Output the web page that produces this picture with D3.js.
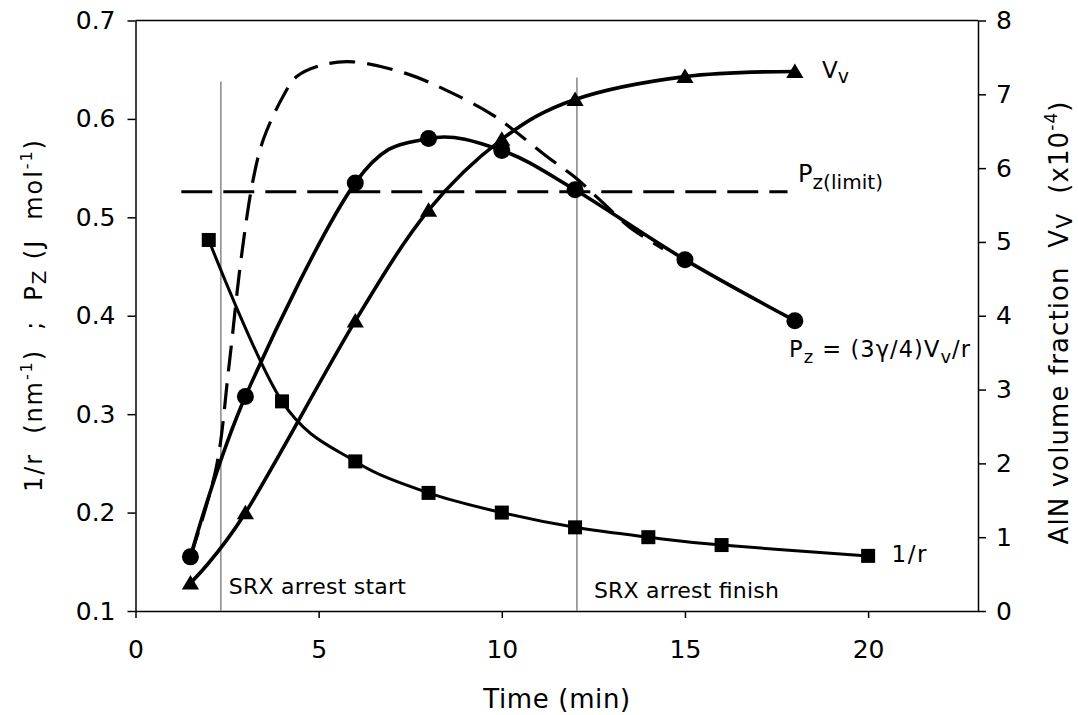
<!DOCTYPE html>
<html>
<head>
<meta charset="utf-8">
<script src="https://cdn.jsdelivr.net/npm/d3@7"></script>
<style>
  html, body { margin: 0; padding: 0; background: #fff; }
  svg { display: block; font-family: Verdana, "DejaVu Sans", sans-serif; }
  text { white-space: pre; }
</style>
</head>
<body>
<svg id="chart" width="1078" height="715"></svg>
<script>
// ---------- data ----------
const timeRinv = [2, 4, 6, 8, 10, 12, 14, 16, 20];
const rinv     = [0.477, 0.313, 0.252, 0.220, 0.200, 0.185, 0.175, 0.167, 0.156];

const timePz = [1.5, 3, 6, 8, 10, 12, 15, 18];
const pz     = [0.155, 0.318, 0.535, 0.580, 0.568, 0.528, 0.457, 0.395];

const timeVv = [1.5, 3, 6, 8, 10, 12, 15, 18];
const vv     = [0.38, 1.33, 3.93, 5.43, 6.39, 6.93, 7.24, 7.31];

const pzLimitTime = [1.25, 17.8];
const pzLimit     = [0.526, 0.526];

const pzCurveTime = [1.5, 2.2, 2.55, 2.87, 3.21, 3.49, 4.03, 4.40, 5.12, 5.94, 7.40, 8.49, 9.67, 10.31, 11.22, 11.99, 12.67, 13.49, 14.4];
const pzCurveVal  = [0.155, 0.245, 0.348, 0.454, 0.538, 0.579, 0.623, 0.643, 0.655, 0.658, 0.646, 0.629, 0.606, 0.589, 0.562, 0.541, 0.518, 0.490, 0.468];

const srxTime   = [2.33, 12.05];
const srxTop    = [0.638, 0.642];
const srxLabels = ["SRX arrest start", "SRX arrest finish"];

const xTicks      = [0, 5, 10, 15, 20];
const yLeftTicks  = [0.1, 0.2, 0.3, 0.4, 0.5, 0.6, 0.7];
const yRightTicks = [0, 1, 2, 3, 4, 5, 6, 7, 8];

// ---------- chart ----------
const svg = d3.select("#chart");
const L = 135.5, R = 978, T = 20.5, B = 611;

const x  = d3.scaleLinear().domain([0, 23]).range([L, R]);
const yL = d3.scaleLinear().domain([0.1, 0.7]).range([B, T]);
const yR = d3.scaleLinear().domain([0, 8]).range([B, T]);

// frame top
svg.append("line").attr("x1", L).attr("x2", R).attr("y1", T).attr("y2", T)
  .attr("stroke", "#000").attr("stroke-width", 1.5);

// axes
const axX = svg.append("g").attr("transform", `translate(0,${B})`)
  .call(d3.axisBottom(x).tickValues(xTicks).tickFormat(d3.format("d")).tickSize(7).tickSizeOuter(0).tickPadding(22));
const axL = svg.append("g").attr("transform", `translate(${L},0)`)
  .call(d3.axisLeft(yL).tickValues(yLeftTicks).tickFormat(d3.format(".1f")).tickSize(8).tickSizeOuter(0).tickPadding(12));
const axR = svg.append("g").attr("transform", `translate(${R},0)`)
  .call(d3.axisRight(yR).tickValues(yRightTicks).tickFormat(d3.format("d")).tickSize(8).tickSizeOuter(0).tickPadding(10));

[axX, axL, axR].forEach(g => {
  g.select(".domain").attr("stroke", "#000").attr("stroke-width", 1.5);
  g.selectAll(".tick line").attr("stroke", "#000").attr("stroke-width", 1.5);
  g.selectAll(".tick text").attr("font-size", 25).attr("fill", "#000")
    .attr("font-family", 'Verdana, "DejaVu Sans", sans-serif');
});

// SRX vertical lines
svg.append("g").selectAll("line").data(srxTime).join("line")
  .attr("x1", d => x(d)).attr("x2", d => x(d))
  .attr("y1", (d, i) => yL(srxTop[i])).attr("y2", B)
  .attr("stroke", "#8f8f8f").attr("stroke-width", 1.6);

const smooth = d3.curveCatmullRom.alpha(0);

// Pz limit dashed line
svg.append("path")
  .attr("d", d3.line().x((d, i) => x(pzLimitTime[i])).y(d => yL(d))(pzLimit))
  .attr("fill", "none").attr("stroke", "#000").attr("stroke-width", 3.2)
  .attr("stroke-dasharray", "31,11");

// dashed Pz curve
svg.append("path")
  .attr("d", d3.line().curve(d3.curveCatmullRom.alpha(0.5)).x((d, i) => x(pzCurveTime[i])).y(d => yL(d))(pzCurveVal))
  .attr("fill", "none").attr("stroke", "#000").attr("stroke-width", 3.2)
  .attr("stroke-dasharray", "26,12");

// 1/r line
svg.append("path")
  .attr("d", d3.line().curve(smooth).x((d, i) => x(timeRinv[i])).y(d => yL(d))(rinv))
  .attr("fill", "none").attr("stroke", "#000").attr("stroke-width", 3);

// Pz line
svg.append("path")
  .attr("d", d3.line().curve(smooth).x((d, i) => x(timePz[i])).y(d => yL(d))(pz))
  .attr("fill", "none").attr("stroke", "#000").attr("stroke-width", 3.6);

// Vv line
svg.append("path")
  .attr("d", d3.line().curve(smooth).x((d, i) => x(timeVv[i])).y(d => yR(d))(vv))
  .attr("fill", "none").attr("stroke", "#000").attr("stroke-width", 3.6);

// markers
svg.append("g").selectAll("rect").data(rinv).join("rect")
  .attr("x", (d, i) => x(timeRinv[i]) - 7).attr("y", d => yL(d) - 7)
  .attr("width", 14).attr("height", 14).attr("fill", "#000");

svg.append("g").selectAll("circle").data(pz).join("circle")
  .attr("cx", (d, i) => x(timePz[i])).attr("cy", d => yL(d)).attr("r", 8.5).attr("fill", "#000");

svg.append("g").selectAll("path").data(vv).join("path")
  .attr("transform", (d, i) => `translate(${x(timeVv[i])},${yR(d)})`)
  .attr("d", "M0,-8L8.6,6.5L-8.6,6.5Z").attr("fill", "#000");

// annotations
function addText(xp, yp, parts, size, len) {
  const t = svg.append("text").attr("x", xp).attr("y", yp).attr("font-size", size).attr("fill", "#000");
  if (len) t.attr("textLength", len).attr("lengthAdjust", "spacing");
  parts.forEach(p => {
    const s = t.append("tspan").text(p.t);
    if (p.size) s.attr("font-size", p.size);
    if (p.dy) s.attr("dy", p.dy);
  });
  return t;
}
addText(822, 78, [{t: "V"}, {t: "v", dy: 5, size: 19}], 23);
addText(798, 182, [{t: "P"}, {t: "z(limit)", dy: 7, size: 20}], 24, 85);
addText(789, 357, [{t: "P"}, {t: "z", dy: 6, size: 18}, {t: " = (3γ/4)V", dy: -6, size: 22.5},
                   {t: "v", dy: 6, size: 18}, {t: "/r", dy: -6, size: 22.5}], 22.5, 181);
addText(891.5, 562, [{t: "1/r"}], 23, 35);

const srxLen = [177, 185];
svg.append("g").selectAll("text").data(srxLabels).join("text")
  .attr("x", (d, i) => x(srxTime[i]) + [8, 17][i])
  .attr("y", (d, i) => [594, 598][i])
  .attr("textLength", (d, i) => srxLen[i]).attr("lengthAdjust", "spacing")
  .attr("font-size", 22).attr("fill", "#000").text(d => d);

// axis titles
svg.append("text").attr("x", (L + R) / 2).attr("y", 708).attr("text-anchor", "middle")
  .attr("textLength", 147).attr("lengthAdjust", "spacing")
  .attr("font-size", 26).attr("fill", "#000").text("Time (min)");

const lt = svg.append("text").attr("transform", "translate(42,316) rotate(-90)")
  .attr("text-anchor", "middle").attr("font-size", 24).attr("fill", "#000")
  .attr("textLength", 352).attr("lengthAdjust", "spacing");
lt.append("tspan").text("1/r  (nm");
lt.append("tspan").attr("font-size", 16).attr("dy", -10).text("-1");
lt.append("tspan").attr("dy", 10).text(")  ;  P");
lt.append("tspan").attr("font-size", 20).attr("dy", 4).text("Z");
lt.append("tspan").attr("dy", -4).text(" (J  mol");
lt.append("tspan").attr("font-size", 16).attr("dy", -10).text("-1");
lt.append("tspan").attr("dy", 10).text(")");

const rt = svg.append("text").attr("transform", "translate(1068,323) rotate(-90)")
  .attr("text-anchor", "middle").attr("font-size", 26).attr("fill", "#000")
  .attr("textLength", 443).attr("lengthAdjust", "spacing");
rt.append("tspan").text("AlN volume fraction  V");
rt.append("tspan").attr("font-size", 22).attr("dy", 4).text("V");
rt.append("tspan").attr("dy", -4).text("  (x10");
rt.append("tspan").attr("font-size", 17).attr("dy", -11).text("-4");
rt.append("tspan").attr("dy", 11).text(")");
</script>
</body>
</html>
